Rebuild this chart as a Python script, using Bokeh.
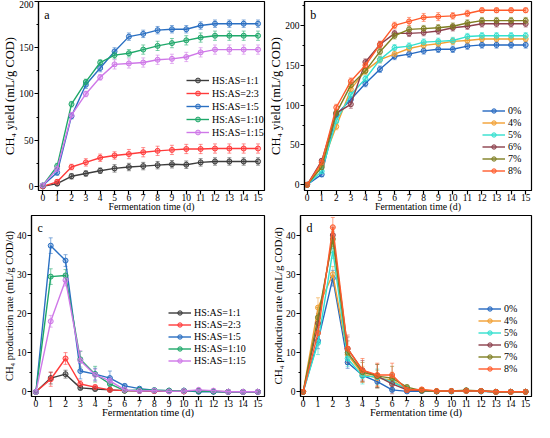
from bokeh.plotting import figure
from bokeh.layouts import column, row
from bokeh.models import ColumnDataSource, Whisker, TeeHead, Range1d, Legend, Label, FixedTicker
from bokeh.embed import file_html
from bokeh.resources import INLINE

days = [0, 1, 2, 3, 4, 5, 6, 7, 8, 9, 10, 11, 12, 13, 14, 15]
x_ticks = [0, 1, 2, 3, 4, 5, 6, 7, 8, 9, 10, 11, 12, 13, 14, 15]

# Panel a: cumulative CH4 yield, HS:AS ratios
ratio_labels = ["HS:AS=1:1", "HS:AS=2:3", "HS:AS=1:5", "HS:AS=1:10", "HS:AS=1:15"]
ratio_colors = ["#3c3c3c", "#ff3b3b", "#2a6fc2", "#1fa86a", "#cf78e8"]
a_11 = [0, 3, 11, 14, 17, 19.5, 21, 22, 23, 24, 23.5, 26, 27, 27, 27, 27]
a_23 = [0, 5, 21, 26, 31, 33.5, 35, 37, 38.5, 39.5, 40.5, 40.5, 41, 41, 41, 41]
a_15 = [1, 15, 76, 110, 128, 146, 162, 165, 169, 170, 170, 174, 176, 176, 176, 176]
a_110 = [1, 22, 89, 113, 134, 142, 144, 148, 152, 155, 158, 161, 163, 163, 163, 163]
a_115 = [1, 19, 77, 100, 118, 132, 133, 134, 137, 138, 140, 145, 148, 148, 148, 148]
ae_11 = [1, 2, 3, 3, 3, 4, 4, 4, 4, 4, 4, 4, 4, 4, 4, 4]
ae_23 = [1, 2, 3, 4, 4, 4, 5, 5, 5, 5, 5, 5, 5, 5, 5, 5]
ae_15 = [1, 3, 3, 4, 4, 4, 4, 4, 4, 4, 4, 4, 4, 4, 4, 4]
ae_110 = [1, 3, 3, 3, 3, 4, 4, 5, 5, 5, 5, 5, 5, 5, 5, 5]
ae_115 = [1, 3, 3, 3, 3, 5, 5, 5, 5, 5, 5, 5, 5, 5, 5, 5]

# Panel b: cumulative CH4 yield, additive dose
dose_labels = ["0%", "4%", "5%", "6%", "7%", "8%"]
dose_colors = ["#2468c0", "#f2a033", "#33e0cf", "#8c3f4b", "#7f7f22", "#ff5b2b"]
b_0 = [0, 13, 88, 107, 127, 145, 161, 164, 168, 170, 170, 174, 175.5, 175.5, 175.5, 175.5]
b_4 = [0, 25, 73, 120, 143, 157, 164, 171, 175, 177, 180, 181, 183, 183, 183, 183]
b_5 = [0, 17, 80, 113, 133, 157, 172, 174, 179, 180, 181, 186, 187, 187, 187, 187]
b_6 = [0, 30, 90, 101, 154, 176, 190, 190, 191, 193, 197, 199, 202, 202, 202, 202]
b_7 = [0, 22, 90, 125, 143, 167, 187, 195, 196, 197, 199, 203, 206, 206, 206, 206]
b_8 = [0, 28, 97, 130, 150, 176, 200, 205, 210, 211, 212, 215, 219, 219, 219, 219]
be_0 = [1, 3, 4, 4, 4, 4, 4, 4, 4, 4, 4, 4, 4, 4, 4, 4]
be_4 = [1, 3, 4, 4, 4, 4, 4, 4, 4, 4, 4, 4, 4, 4, 4, 4]
be_5 = [1, 3, 4, 4, 4, 4, 4, 4, 4, 4, 4, 4, 4, 4, 4, 4]
be_6 = [1, 3, 4, 5, 4, 4, 4, 4, 4, 4, 4, 4, 4, 4, 4, 4]
be_7 = [1, 3, 4, 4, 4, 4, 4, 4, 4, 4, 4, 4, 4, 4, 4, 4]
be_8 = [1, 3, 4, 4, 4, 4, 4, 5, 5, 5, 4, 4, 3, 3, 3, 3]

# Panel c: CH4 production rate, HS:AS ratios
c_11 = [0, 3.5, 4.5, 1, 0.7, 0.5, 0.3, 0.2, 0.2, 0.2, 0.1, 0.3, 0.1, 0, 0, 0]
c_23 = [0, 3.2, 8.5, 2, 1.2, 0.5, 0.3, 0.3, 0.2, 0.2, 0.1, 0.1, 0.1, 0, 0, 0]
c_15 = [0, 37.3, 33.5, 5.3, 4.5, 3.5, 1.5, 0.8, 0.4, 0.3, 0.3, 0, 0, 0, 0, 0]
c_110 = [0, 29.4, 29.7, 8.3, 4.5, 2, 0.3, 0.5, 0.4, 0.3, 0.3, 0.2, 0.1, 0, 0, 0]
c_115 = [0, 18, 28.5, 8, 4.3, 2.8, 0.5, 0.2, 0.3, 0.1, 0.2, 0.5, 0.3, 0, 0, 0]
ce_11 = [0, 1.5, 1, 0.5, 0.4, 0.3, 0.2, 0.1, 0.1, 0.1, 0.1, 0.1, 0.1, 0, 0, 0]
ce_23 = [0, 1.8, 1.5, 0.8, 0.5, 0.4, 0.2, 0.1, 0.1, 0.1, 0.1, 0.1, 0.1, 0, 0, 0]
ce_15 = [0, 2, 1.5, 2, 1.5, 1.8, 0.5, 0.3, 0.2, 0.1, 0.1, 0.1, 0.1, 0, 0, 0]
ce_110 = [0, 2, 1.5, 2, 2, 0.8, 0.3, 0.2, 0.2, 0.1, 0.1, 0.1, 0.1, 0, 0, 0]
ce_115 = [0, 1.5, 1.5, 2.5, 1.5, 1, 0.3, 0.2, 0.2, 0.1, 0.1, 0.2, 0.1, 0, 0, 0]

# Panel d: CH4 production rate, additive dose
d_0 = [0, 13, 29, 7.5, 4.2, 2.6, 0.5, 0.1, 0.2, 0.1, 0.1, 0.3, 0.1, 0, 0, 0]
d_4 = [0, 21.5, 30, 9.5, 4.5, 3.5, 3, 0.5, 0.5, 0.2, 0.2, 0.2, 0.2, 0, 0, 0]
d_5 = [0, 12.5, 36, 8.5, 4, 3.8, 2.5, 0.8, 0.3, 0.1, 0.1, 0.2, 0.1, 0, 0, 0]
d_6 = [0, 17.5, 40, 11, 5.5, 4, 2, 0.5, 0.3, 0.1, 0.2, 0.3, 0.2, 0, 0, 0]
d_7 = [0, 19, 39, 10, 5, 4, 3.5, 1.2, 0.3, 0.1, 0.2, 0.4, 0.2, 0, 0, 0]
d_8 = [0, 15, 42, 11, 5.5, 4.3, 4.3, 0.5, 0.6, 0.2, 0.2, 0.2, 0.2, 0, 0, 0]
de_0 = [0, 2, 2, 1.5, 1.5, 1.5, 0.5, 0.2, 0.2, 0.1, 0.1, 0.1, 0.1, 0, 0, 0]
de_4 = [0, 2.5, 2, 2, 2, 2, 2, 0.5, 0.5, 0.2, 0.1, 0.1, 0.1, 0, 0, 0]
de_5 = [0, 3, 2, 2, 2, 2, 2, 0.5, 0.3, 0.1, 0.1, 0.1, 0.1, 0, 0, 0]
de_6 = [0, 2.5, 2, 3, 2.5, 3, 2.5, 0.5, 0.3, 0.1, 0.1, 0.1, 0.1, 0, 0, 0]
de_7 = [0, 2.5, 2, 3, 2.5, 3, 3, 0.5, 0.3, 0.1, 0.1, 0.1, 0.1, 0, 0, 0]
de_8 = [0, 3, 2.5, 3.5, 3, 3, 3, 0.5, 0.5, 0.1, 0.1, 0.1, 0.1, 0, 0, 0]

SERIF = "Liberation Serif"
XLABEL = "Fermentation time (d)"


def make_panel(width, height, xr, yr, ymajor, yminor, ylabel, ylabel_size, xlabel_size,
               letter, letter_y, series, errors, labels, colors, legend_xy, item_h, borders):
    p = figure(width=width, height=height, output_backend="svg", toolbar_location=None,
               x_range=Range1d(*xr), y_range=Range1d(*yr))
    p.min_border_left, p.min_border_right, p.min_border_top, p.min_border_bottom = borders
    p.xgrid.visible = False
    p.ygrid.visible = False
    p.outline_line_color = "black"
    p.outline_line_width = 1.2
    p.background_fill_color = "white"
    p.border_fill_color = "white"
    p.xaxis.ticker = FixedTicker(ticks=x_ticks)
    p.yaxis.ticker = FixedTicker(ticks=ymajor, minor_ticks=yminor)
    p.xaxis.minor_tick_line_color = None
    for ax in (p.xaxis[0], p.yaxis[0]):
        ax.axis_line_color = "black"
        ax.axis_line_width = 1.2
        ax.major_tick_line_color = "black"
        ax.major_tick_line_width = 1.2
        ax.major_tick_out = 4
        ax.major_tick_in = 0
        ax.major_label_text_font = SERIF
        ax.major_label_text_font_size = "9.5px"
        ax.major_label_text_color = "black"
        ax.axis_label_text_font = SERIF
        ax.axis_label_text_font_style = "normal"
        ax.axis_label_text_color = "black"
    p.xaxis.major_label_standoff = -1
    p.xaxis.axis_label_standoff = -3
    p.yaxis.major_label_standoff = 1
    p.yaxis.axis_label_standoff = -1
    p.yaxis.minor_tick_line_color = "black"
    p.yaxis.minor_tick_out = 2
    p.yaxis.minor_tick_in = 0
    p.xaxis.axis_label = XLABEL
    p.xaxis.axis_label_text_font_size = xlabel_size
    p.yaxis.axis_label = ylabel
    p.yaxis.axis_label_text_font_size = ylabel_size

    items = []
    for ys, es, lab, col in zip(series, errors, labels, colors):
        lo = [y - e for y, e in zip(ys, es)]
        hi = [y + e for y, e in zip(ys, es)]
        src = ColumnDataSource(dict(x=days, y=ys, lo=lo, hi=hi))
        w = Whisker(source=src, base="x", lower="lo", upper="hi",
                    line_color=col, line_width=0.8, line_alpha=0.7,
                    upper_head=TeeHead(size=4, line_color=col, line_width=0.8, line_alpha=0.7),
                    lower_head=TeeHead(size=4, line_color=col, line_width=0.8, line_alpha=0.7))
        p.add_layout(w)
        r1 = p.line("x", "y", source=src, line_color=col, line_width=1.4)
        r2 = p.scatter("x", "y", source=src, marker="circle", size=5,
                       line_color=col, fill_color=col, fill_alpha=0.35, line_width=1)
        items.append((lab, [r1, r2]))
    leg = Legend(items=items, location=legend_xy)
    leg.background_fill_alpha = 0
    leg.border_line_color = None
    leg.label_text_font = SERIF
    leg.label_text_font_size = "10px"
    leg.label_text_color = "black"
    leg.glyph_width = 23
    leg.glyph_height = item_h
    leg.label_height = item_h
    leg.spacing = 1
    leg.padding = 0
    leg.margin = 0
    leg.label_standoff = 3
    p.add_layout(leg, "center")
    p.add_layout(Label(x=xr[0] + 0.4, y=letter_y, text=letter, text_font=SERIF,
                       text_font_size="12px", text_baseline="top", text_color="black"))
    return p


pa = make_panel(266, 214, (-0.3, 15.45), (-4.4, 200), [0, 50, 100, 150, 200],
                [25, 75, 125, 175], "CH₄ yield (mL/g COD)", "12.5px", "9.8px", "a", 193,
                [a_11, a_23, a_15, a_110, a_115], [ae_11, ae_23, ae_15, ae_110, ae_115],
                ratio_labels, ratio_colors, (148, 52), 12, (28, 2, 1, 24))
pb = make_panel(268, 214, (-0.18, 15.4), (-7.2, 230), [0, 50, 100, 150, 200],
                [25, 75, 125, 175, 225], "CH₄ yield (mL/g COD)", "12.5px", "9.8px", "b", 222,
                [b_0, b_4, b_5, b_6, b_7, b_8], [be_0, be_4, be_5, be_6, be_7, be_8],
                dose_labels, dose_colors, (178, 14), 11, (34, 3, 1, 24))
pc = make_panel(266, 208, (-0.3, 15.45), (-1.2, 45), [0, 10, 20, 30, 40],
                [5, 15, 25, 35], "CH₄ production rate (mL/g COD/d)", "10.5px", "10.5px", "c", 43.5,
                [c_11, c_23, c_15, c_110, c_115], [ce_11, ce_23, ce_15, ce_110, ce_115],
                ratio_labels, ratio_colors, (137, 30), 11, (28, 2, 1, 26))
pd_ = make_panel(268, 208, (-0.18, 15.4), (-1.2, 45), [0, 10, 20, 30, 40],
                 [5, 15, 25, 35], "CH₄ production rate (mL/g COD/d)", "11px", "10.5px", "d", 43.5,
                 [d_0, d_4, d_5, d_6, d_7, d_8], [de_0, de_4, de_5, de_6, de_7, de_8],
                 dose_labels, dose_colors, (178, 22), 11, (34, 3, 1, 26))

p = column(row(pa, pb), row(pc, pd_))
open("out.html", "w").write(file_html(p, INLINE))
